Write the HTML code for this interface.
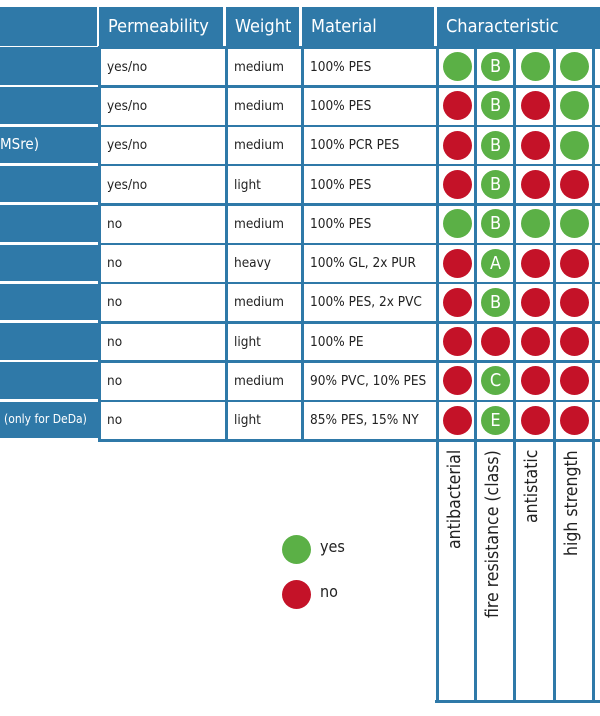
<!DOCTYPE html><html><head><style>
body{margin:0;width:600px;height:716px;background:#fff;position:relative;overflow:hidden;font-family:"DejaVu Sans Condensed","Liberation Sans",sans-serif;}
div{position:absolute;box-sizing:border-box}
.h{background:#2f79a8;color:#fff;font-size:18px;line-height:39px;padding-left:9px;top:7px;height:39px}
.c{font-size:13.5px;color:#222;padding-left:8px;display:flex;align-items:center}
.d{width:29px;height:29px;border-radius:50%;color:#fff;font-size:18px;text-align:center;line-height:29px}
.g{background:#5bb046}.r{background:#c41228}
.v{background:#2f79a8;width:3px}
.lbl{transform:rotate(-90deg);transform-origin:0 0;font-size:17.5px;color:#222;white-space:nowrap;text-align:left}
</style></head><body>
<div class="h" style="left:0;width:97px"></div>
<div class="h" style="left:99px;width:124px">Permeability</div>
<div class="h" style="left:226px;width:73px">Weight</div>
<div class="h" style="left:302px;width:132px">Material</div>
<div class="h" style="left:437px;width:163px">Characteristic</div>
<div id="t"></div>
<script>
const rows=[["","yes/no","medium","100% PES","gBgg"],["","yes/no","medium","100% PES","rBrg"],["MSre)","yes/no","medium","100% PCR PES","rBrg"],["","yes/no","light","100% PES","rBrr"],["","no","medium","100% PES","gBgg"],["","no","heavy","100% GL, 2x PUR","rArr"],["","no","medium","100% PES, 2x PVC","rBrr"],["","no","light","100% PE","rrrr"],["","no","medium","90% PVC, 10% PES","rCrr"],["(only for DeDa)","no","light","85% PES, 15% NY","rErr"]];
let h="";const cx=[437,475,514,554,593];
rows.forEach((r,i)=>{const y=47+i*39.3;
h+=`<div style="left:0;top:${y}px;width:98px;height:37.5px;background:#2f79a8;color:#fff;font-size:${i==9?12:15}px;line-height:37px;padding-left:${i==9?4:0}px">${r[0]}</div>`;
h+=`<div class="c" style="left:99px;top:${y}px;width:127px;height:39.3px">${r[1]}</div>`;
h+=`<div class="c" style="left:226px;top:${y}px;width:76px;height:39.3px">${r[2]}</div>`;
h+=`<div class="c" style="left:302px;top:${y}px;width:135px;height:39.3px">${r[3]}</div>`;
for(let k=0;k<4;k++){const ch=r[4][k];const cls=(ch=='r')?'r':'g';const t=(ch=='g'||ch=='r')?'':ch;
const x=(cx[k]+cx[k+1])/2+1-14.5;h+=`<div class="d ${cls}" style="left:${x}px;top:${y+5}px">${t}</div>`;}
});
for(let i=0;i<=10;i++){const y=46+i*39.3;h+=`<div style="left:98px;top:${y}px;width:502px;height:2.5px;background:#2f79a8"></div>`;if(i>0&&i<10)h+=`<div style="left:0;top:${y}px;width:98px;height:2px;background:#fff"></div>`}
[98,225,301,436].forEach(x=>h+=`<div class="v" style="left:${x}px;top:46px;height:396px"></div>`);
cx.forEach(x=>h+=`<div class="v" style="left:${x-1}px;top:46px;height:657px;width:2.5px"></div>`);
h+=`<div style="left:435px;top:700px;width:165px;height:2.5px;background:#2f79a8"></div>`;
["antibacterial","fire resistance (class)","antistatic","high strength"].forEach((s,k)=>{h+=`<div class="lbl" style="left:${cx[k]+8}px;top:710px;">${s}</div>`});
document.getElementById('t').outerHTML=h;
</script>
<div class="d g" style="left:282px;top:535px"></div><div style="left:320px;top:537px;font-size:16px;color:#222">yes</div>
<div class="d r" style="left:282px;top:580px"></div><div style="left:320px;top:582px;font-size:16px;color:#222">no</div>
<script>
document.querySelectorAll('.lbl').forEach(e=>{const w=e.offsetWidth;e.style.top=(450+w)+'px';});
</script>
</body></html>
